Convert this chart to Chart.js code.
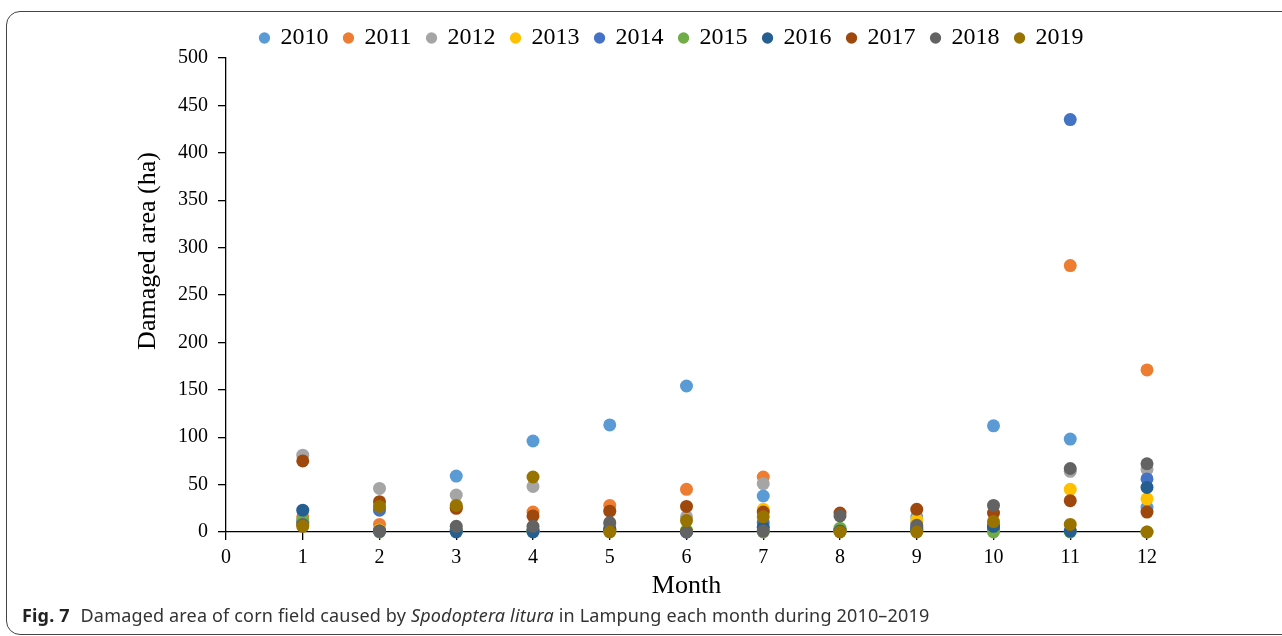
<!DOCTYPE html>
<html>
<head>
<meta charset="utf-8">
<script src="https://cdn.jsdelivr.net/npm/chart.js@4.4.1/dist/chart.umd.min.js"></script>
<style>
    body { margin: 0; background: #fff; }
    #frame { position: absolute; left: 6px; top: 11px; width: 1320px; height: 622px; border: 1.5px solid #444; border-radius: 14px; }
    #wrap { position: absolute; left: 0; top: 0; width: 1282px; height: 636px; }
    #caption { position: absolute; left: 22px; top: 603px; font: 18px "Noto Sans", sans-serif; letter-spacing: 0.17px; color: #333; white-space: nowrap; }
    #caption b { color: #222; margin-right: 6px; }
</style>
</head>
<body>
<div id="frame"></div>
<div id="wrap"><canvas id="scatter"></canvas></div>
<div id="caption"><b>Fig. 7</b> Damaged area of corn field caused by <i>Spodoptera litura</i> in Lampung each month during 2010–2019</div>
<script>
const months = [1, 2, 3, 4, 5, 6, 7, 8, 9, 10, 11, 12];
const years = ['2010', '2011', '2012', '2013', '2014', '2015', '2016', '2017', '2018', '2019'];
const colors = ['#5B9BD5', '#ED7D31', '#A5A5A5', '#FFC000', '#4472C4', '#70AD47', '#255E91', '#9E480E', '#636363', '#997300'];

const v2010 = [10, 2, 59, 96, 113, 154, 38, 2, 16, 112, 98, 26];
const v2011 = [16, 8, 26, 21, 28, 45, 58, 2, 3, 5, 281, 171];
const v2012 = [81, 46, 39, 48, 8, 16, 51, 2, 10, 8, 64, 66];
const v2013 = [9, 2, 2, 1, 1, 2, 24, 1, 13, 4, 45, 35];
const v2014 = [11, 23, 2, 2, 2, 0, 10, 1, 5, 3, 435, 56];
const v2015 = [13, 0, 1, 1, 1, 1, 0, 4, 1, 0, 0, 0];
const v2016 = [23, 1, 0, 0, 3, 0, 5, 1, 2, 6, 1, 47];
const v2017 = [75, 32, 25, 17, 22, 27, 21, 20, 24, 20, 33, 21];
const v2018 = [8, 1, 6, 6, 10, 0, 1, 17, 7, 28, 67, 72];
const v2019 = [6, 27, 28, 58, 0, 12, 16, 0, 0, 11, 8, 0];
const seriesValues = [v2010, v2011, v2012, v2013, v2014, v2015, v2016, v2017, v2018, v2019];

const xTicks = [0, 1, 2, 3, 4, 5, 6, 7, 8, 9, 10, 11, 12];
const yTicks = [0, 50, 100, 150, 200, 250, 300, 350, 400, 450, 500];
const xTitle = 'Month';
const yTitle = 'Damaged area (ha)';

const serif = '"Liberation Serif", "Times New Roman", serif';

// legend sits centred over the plot like the original, not over the canvas
const legendShift = {
    id: 'legendShift',
    afterLayout(chart) {
        const l = chart.legend;
        const d = 672 - (l.left + l.right) / 2;
        l.left += d;
        l.right += d;
    }
};

// y title is placed a bit above the plot centre in the original
const yTitlePlugin = {
    id: 'yTitle',
    afterDraw(chart) {
        const ctx = chart.ctx;
        ctx.save();
        ctx.translate(148, 251);
        ctx.rotate(-Math.PI / 2);
        ctx.font = '26px ' + serif;
        ctx.fillStyle = '#000';
        ctx.textAlign = 'center';
        ctx.textBaseline = 'middle';
        ctx.fillText(yTitle, 0, 0);
        ctx.restore();
    }
};

const datasets = years.map((year, i) => ({
    label: year,
    data: months.map((m, j) => ({ x: m, y: seriesValues[i][j] })),
    backgroundColor: colors[i],
    borderColor: colors[i],
    borderWidth: 0,
    pointRadius: 6.5,
    pointHoverRadius: 6.5,
    clip: false,
    order: years.length - 1 - i // later years drawn on top
}));

new Chart(document.getElementById('scatter'), {
    type: 'scatter',
    data: { datasets },
    plugins: [legendShift, yTitlePlugin],
    options: {
        responsive: true,
        maintainAspectRatio: false,
        animation: false,
        layout: { padding: { left: 0, right: 135, top: 10, bottom: 20 } },
        plugins: {
            tooltip: { enabled: false },
            legend: {
                position: 'top',
                maxHeight: 48,
                labels: {
                    usePointStyle: true,
                    pointStyle: 'circle',
                    boxWidth: 8,
                    boxHeight: 8,
                    padding: 16,
                    color: '#000',
                    sort: (a, b) => a.datasetIndex - b.datasetIndex,
                    font: { family: serif, size: 24, lineHeight: 1 }
                }
            }
        },
        scales: {
            x: {
                type: 'linear',
                min: 0,
                max: 12,
                afterBuildTicks: s => { s.ticks = xTicks.map(v => ({ value: v })); },
                afterFit: s => { s.height = 84; },
                border: { color: '#000', width: 1.3 },
                grid: { drawOnChartArea: false, drawTicks: true, tickLength: 8, color: '#000', lineWidth: 1.3 },
                ticks: { color: '#000', padding: 6, font: { family: serif, size: 20 } },
                title: { display: true, text: xTitle, color: '#000', padding: { top: 0, bottom: 14 }, font: { family: serif, size: 26 } }
            },
            y: {
                min: 0,
                max: 500,
                afterBuildTicks: s => { s.ticks = yTicks.map(v => ({ value: v })); },
                afterFit: s => { s.width = 226; },
                border: { color: '#000', width: 1.3 },
                grid: { drawOnChartArea: false, drawTicks: true, tickLength: 8, color: '#000', lineWidth: 1.3 },
                ticks: { color: '#000', padding: 10, font: { family: serif, size: 20 } }
            }
        }
    }
});
</script>
</body>
</html>
